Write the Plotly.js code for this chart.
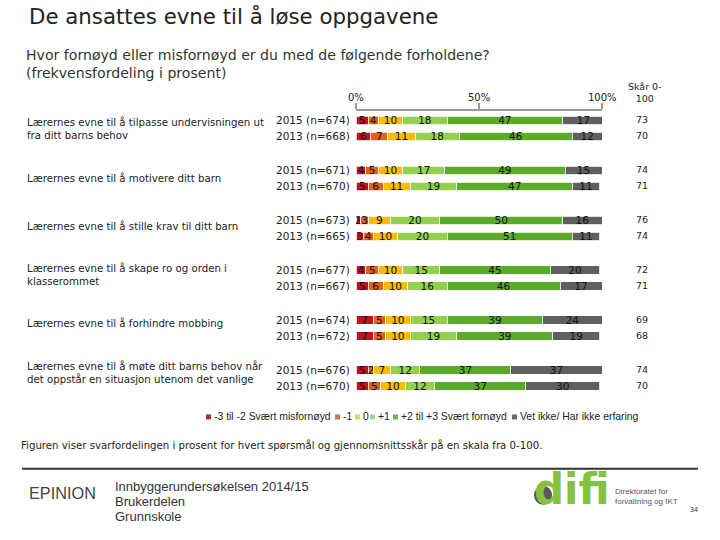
<!DOCTYPE html>
<html>
<head>
<meta charset="utf-8">
<script src="https://cdn.plot.ly/plotly-3.0.1.min.js"></script>
<style>html,body{margin:0;padding:0;background:#fff;}#chart{width:720px;height:540px;}</style>
</head>
<body>
<div id="chart"></div>
<script>
// ---- data ----
const questions = [
  'Lærernes evne til å tilpasse undervisningen ut<br>fra ditt barns behov',
  'Lærernes evne til å motivere ditt barn',
  'Lærernes evne til å stille krav til ditt barn',
  'Lærernes evne til å skape ro og orden i<br>klasserommet',
  'Lærernes evne til å forhindre mobbing',
  'Lærernes evne til å møte ditt barns behov når<br>det oppstår en situasjon utenom det vanlige'
];
const rowLabels = [
  '2015 (n=674)', '2013 (n=668)',
  '2015 (n=671)', '2013 (n=670)',
  '2015 (n=673)', '2013 (n=665)',
  '2015 (n=677)', '2013 (n=667)',
  '2015 (n=674)', '2013 (n=672)',
  '2015 (n=676)', '2013 (n=670)'
];
const veryDissatisfied = [5, 6, 4, 5, 2, 3, 4, 5, 7, 7, 5, 5];
const minusOne         = [4, 7, 5, 6, 3, 4, 5, 6, 5, 5, 2, 5];
const zero             = [10, 11, 10, 11, 9, 10, 10, 10, 10, 10, 7, 10];
const plusOne          = [18, 18, 17, 19, 20, 20, 15, 16, 15, 19, 12, 12];
const verySatisfied    = [47, 46, 49, 47, 50, 51, 45, 46, 39, 39, 37, 37];
const dontKnow         = [17, 12, 15, 11, 16, 11, 20, 17, 24, 19, 37, 30];
const scores           = [73, 70, 74, 71, 76, 74, 72, 71, 69, 68, 74, 70];
const seriesNames = ['-3 til -2 Svært misfornøyd', '-1', '0', '+1', '+2 til +3 Svært fornøyd', 'Vet ikke/ Har ikke erfaring'];
const seriesValues = [veryDissatisfied, minusOne, zero, plusOne, verySatisfied, dontKnow];
const xTickVals = [0, 50, 100];
const xTickText = ['0%', '50%', '100%'];
const footerLines = ['Innbyggerundersøkelsen 2014/15', 'Brukerdelen', 'Grunnskole'];

// ---- styles / layout ----
const colors = ['#c0121c', '#e2601b', '#fbbb00', '#92d050', '#5aab2a', '#5f5f5f'];
const legendColors = ['#a8343a', '#c77a4a', '#e8cf6a', '#a9d38a', '#73b24f', '#6a6a6a'];
const W = 720, H = 540;
const ml = 356, mr = 118, mt = 110.5, mb = 143;
const pw = W - ml - mr, ph = H - mt - mb;
const px = x => (x - ml) / pw;
const py = y => (H - mb - y) / ph;

const rowPos = rowLabels.map((_, r) => Math.floor(r / 2) * 50 + (r % 2) * 16);

const lib = 'Liberation Sans, Arial, sans-serif';
const dv = 'DejaVu Sans, Verdana, sans-serif';

const traces = seriesValues.map((vals, i) => ({
  type: 'bar',
  orientation: 'h',
  name: seriesNames[i],
  x: vals,
  y: rowPos,
  width: 8.5,
  marker: {color: colors[i], line: {color: '#ffffff', width: 0.8}},
  text: vals.map(String),
  textposition: 'inside',
  insidetextanchor: 'middle',
  constraintext: 'none',
  textangle: 0,
  textfont: {family: dv, size: 10.5, color: '#111'},
  hoverinfo: 'none',
  showlegend: false
}));

const ann = [];
const shapes = [];
function txt(text, x, y, size, opts) {
  ann.push(Object.assign({
    text: text, xref: 'paper', yref: 'paper', x: px(x), y: py(y),
    xanchor: 'left', yanchor: 'middle', showarrow: false,
    font: {family: dv, size: size, color: '#222'}, align: 'left'
  }, opts || {}));
}

// titles
txt('De ansattes evne til å løse oppgavene', 27, 16, 21.3, {font: {family: dv, size: 21.3, color: '#222'}});
txt('Hvor fornøyd eller misfornøyd er du med de følgende forholdene?<br>(frekvensfordeling i prosent)', 24, 63, 14.1, {font: {family: dv, size: 14.1, color: '#333'}});
txt('Skår 0-<br>100', 645, 92, 9.5, {xanchor: 'center', align: 'center'});

// x tick labels drawn on the axis scale
xTickVals.forEach((v, i) => ann.push({
  text: xTickText[i], xref: 'x', yref: 'paper', x: v, y: py(97),
  xanchor: 'center', yanchor: 'middle', showarrow: false,
  font: {family: dv, size: 10, color: '#222'}
}));

// question labels
const qY = [128, 178, 226, 274, 323, 372];
questions.forEach((q, i) => txt(q, 25, qY[i], 10.2));
// row labels and scores
rowLabels.forEach((lab, r) => {
  const yPix = mt + (rowPos[r] + 9);
  txt(lab, 274, yPix, 10.5);
  txt(String(scores[r]), 642, yPix, 9.5, {xanchor: 'center'});
});

// custom legend
const legX = [206, 335, 355, 370, 393, 512];
seriesNames.forEach((n, i) => {
  shapes.push({type: 'rect', xref: 'paper', yref: 'paper', x0: px(legX[i]), x1: px(legX[i] + 5), y0: py(419.5), y1: py(414.5), fillcolor: legendColors[i], line: {width: 0}});
  txt(n, legX[i] + 6, 417, 10.4, {font: {family: lib, size: 10.4, color: '#222'}});
});

// footer
txt('Figuren viser svarfordelingen i prosent for hvert spørsmål og gjennomsnittsskår på en skala fra 0-100.', 19, 445, 10.2);
shapes.push({type: 'line', xref: 'paper', yref: 'paper', x0: px(22), x1: px(698), y0: py(469), y1: py(469), line: {color: '#333', width: 2}});
txt('EPINION', 27, 493, 16.3, {font: {family: lib, size: 16.3, color: '#444'}});
footerLines.forEach((l, i) => txt(l, 113, 487 + i * 15, 13, {font: {family: lib, size: 13, color: '#333'}}));
txt('difi', 532, 490, 42, {font: {family: dv, size: 42, color: '#84c341', weight: 'bold'}});
shapes.push({type: 'circle', xref: 'paper', yref: 'paper', x0: px(534), x1: px(552), y0: py(505), y1: py(486), fillcolor: '#58595b', line: {width: 0}});
txt('Direktoratet for<br>forvaltning og IKT', 613, 497, 8, {font: {family: lib, size: 8, color: '#555'}});
txt('34', 688, 510, 7, {font: {family: lib, size: 7, color: '#333'}});

const layout = {
  width: W, height: H,
  margin: {l: ml, r: mr, t: mt, b: mb, pad: 0},
  paper_bgcolor: '#ffffff', plot_bgcolor: '#ffffff',
  barmode: 'stack',
  bargap: 0,
  showlegend: false,
  uniformtext: {minsize: 10, mode: 'show'},
  xaxis: {
    side: 'top', range: [0, 100], tickvals: xTickVals, showticklabels: false,
    ticks: 'outside', ticklen: 6, tickcolor: '#999', tickwidth: 1.5,
    showline: true, linecolor: '#999', linewidth: 2,
    showgrid: false, zeroline: false, fixedrange: true
  },
  yaxis: {range: [277, -9.5], visible: false, fixedrange: true},
  annotations: ann,
  shapes: shapes
};

Plotly.newPlot('chart', traces, layout, {staticPlot: true, displayModeBar: false});
</script>
</body>
</html>
